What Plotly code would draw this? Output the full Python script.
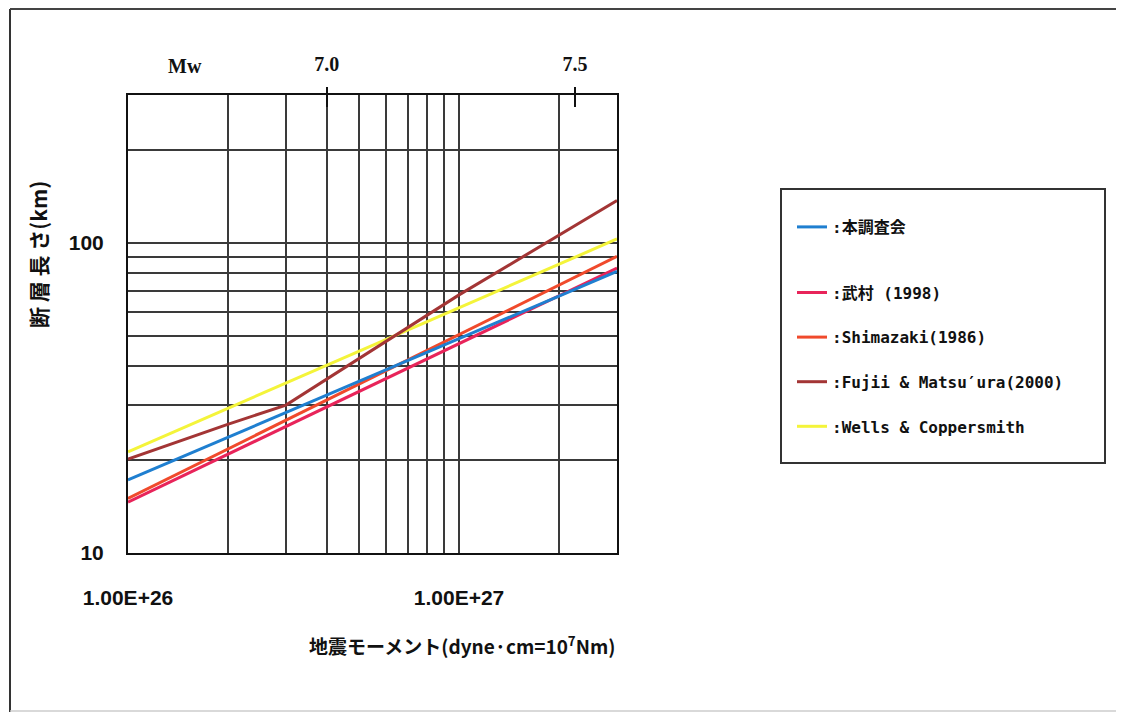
import numpy as np
import plotly.graph_objects as go

# ---- data ----
m0_line = [1e26, 3e27]                      # seismic moment, dyne-cm
L_honchosakai = [17.2, 81.0]                # 本調査会
L_takemura = [14.6, 83.0]                   # 武村 (1998)
L_shimazaki = [15.0, 90.5]                  # Shimazaki (1986)
m0_fujii = [1e26, 2e26, 3e26, 1e27, 3e27]
L_fujii = [20.1, 26.0, 30.0, 68.0, 137.0]   # Fujii & Matsu'ura (2000)
L_wells = [21.2, 103.0]                     # Wells & Coppersmith

x_grid = [1e26, 2e26, 3e26, 4e26, 5e26, 6e26, 7e26, 8e26, 9e26, 1e27, 2e27, 3e27]
x_ticktext = ["1.00E+26", "", "", "", "", "", "", "", "", "1.00E+27", "", ""]
y_grid = [10, 20, 30, 40, 50, 60, 70, 80, 90, 100, 200, 300]
y_ticktext = ["10", "", "", "", "", "", "", "", "", "100", "", ""]
mw_ticks = [7.0, 7.5]
mw_ticktext = ["7.0", "7.5"]

x_min, x_max = 1e26, 3e27
y_min, y_max = 10, 300
mw_range = [(np.log10(x_min) - 16.1) / 1.5, (np.log10(x_max) - 16.1) / 1.5]

# page geometry (browser body has an 8px margin)
OFF = 8
W, H = 1124 - OFF, 713 - OFF
L_PX, R_PX, T_PX, B_PX = 128, 617, 95, 553   # plot area in page pixels
pw, ph = R_PX - L_PX, B_PX - T_PX


def px(xp):
    return (xp - L_PX) / pw


def py(yp):
    return (B_PX - yp) / ph


lab_font = dict(family="Liberation Sans Narrow, Arial Narrow, Liberation Sans", size=21, color="#111", weight="bold")
leg_font = dict(family="DejaVu Sans Mono, Noto Sans CJK JP", size=16, color="#111", weight="bold")
serif_font = dict(family="Liberation Serif, Times New Roman", size=20, color="#111", weight="bold")

fig = go.Figure()

series = [
    (":本調査会", m0_line, L_honchosakai, "#1f7fd0", "a", 1),
    (":武村 (1998)", m0_line, L_takemura, "#e8245a", "b", 2),
    (":Shimazaki(1986)", m0_line, L_shimazaki, "#f04a2c", "b", 3),
    (":Fujii & Matsu′ura(2000)", m0_fujii, L_fujii, "#a33535", "b", 4),
    (":Wells & Coppersmith", m0_line, L_wells, "#f4f43a", "b", 5),
]
draw_order = [1, 2, 4, 3, 0]
for i in draw_order:
    name, xs, ys, col, grp, rank = series[i]
    fig.add_trace(go.Scatter(
        x=xs, y=ys, mode="lines", name=name + "<br> ",
        line=dict(color=col, width=3),
        legendgroup=grp, legendrank=rank,
    ))

# invisible traces to carry the Mw axis (outside + inside ticks form a cross)
fig.add_trace(go.Scatter(x=mw_ticks, y=[y_min, y_min], xaxis="x2", mode="markers",
                         marker=dict(opacity=0), showlegend=False, hoverinfo="skip"))
fig.add_trace(go.Scatter(x=mw_ticks, y=[y_min, y_min], xaxis="x3", mode="markers",
                         marker=dict(opacity=0), showlegend=False, hoverinfo="skip"))

grid_col = "#3a3a3a"
fig.update_layout(
    width=W, height=H,
    margin=dict(l=L_PX - OFF, r=(W + OFF) - R_PX, t=T_PX - OFF, b=(H + OFF) - B_PX, autoexpand=False),
    paper_bgcolor="white", plot_bgcolor="white",
    showlegend=True,
    xaxis=dict(
        type="log", range=[np.log10(x_min), np.log10(x_max)],
        tickmode="array", tickvals=x_grid, ticktext=x_ticktext,
        showgrid=True, gridcolor=grid_col, gridwidth=1.5,
        showline=True, linecolor="#111", linewidth=2, mirror=True,
        ticks="", tickfont=lab_font, ticklabelstandoff=25,
        zeroline=False,
    ),
    yaxis=dict(
        type="log", range=[np.log10(y_min), np.log10(y_max)],
        tickmode="array", tickvals=y_grid, ticktext=y_ticktext,
        showgrid=True, gridcolor=grid_col, gridwidth=1.5,
        showline=True, linecolor="#111", linewidth=2, mirror=True,
        ticks="", tickfont=lab_font, ticklabelstandoff=18,
        zeroline=False,
    ),
    xaxis2=dict(
        overlaying="x", side="top", range=mw_range,
        tickmode="array", tickvals=mw_ticks, ticktext=mw_ticktext,
        ticks="outside", ticklen=7, tickwidth=2, tickcolor="#111",
        showgrid=False, showline=False, zeroline=False,
        tickfont=serif_font, ticklabelstandoff=8,
    ),
    xaxis3=dict(
        overlaying="x", side="top", range=mw_range,
        tickmode="array", tickvals=mw_ticks, ticktext=["", ""],
        ticks="inside", ticklen=12, tickwidth=2, tickcolor="#111",
        showgrid=False, showline=False, zeroline=False, showticklabels=False,
    ),
    legend=dict(
        x=px(792), y=py(210), xanchor="left", yanchor="top",
        bgcolor="rgba(0,0,0,0)", borderwidth=0,
        font=leg_font, traceorder="grouped", tracegroupgap=21,
        valign="top", itemwidth=30,
    ),
    annotations=[
        dict(text="Mw", x=px(185), y=py(66), xref="paper", yref="paper", showarrow=False,
             xanchor="center", yanchor="middle", font=serif_font),
        dict(text="断 層 長 さ(km)", x=px(38), y=py(255), xref="paper", yref="paper", showarrow=False,
             xanchor="center", yanchor="middle", textangle=-90,
             font=dict(family="Noto Sans CJK JP", size=21, color="#111", weight="bold")),
        dict(text="地震モーメント(dyne·cm=10<sup>7</sup>Nm)", x=px(462), y=py(645), xref="paper", yref="paper",
             xanchor="center", yanchor="middle", showarrow=False,
             font=dict(family="Noto Sans CJK JP", size=19, color="#111", weight="bold")),
    ],
    shapes=[
        dict(type="rect", xref="paper", yref="paper", x0=px(781), x1=px(1105), y0=py(463), y1=py(189),
             line=dict(color="#333", width=2), fillcolor="rgba(0,0,0,0)", layer="above"),
        dict(type="line", xref="paper", yref="paper", x0=px(10), x1=px(10), y0=py(9), y1=py(712),
             line=dict(color="#333", width=2)),
        dict(type="line", xref="paper", yref="paper", x0=px(10), x1=px(1124), y0=py(9), y1=py(9),
             line=dict(color="#444", width=2)),
        dict(type="line", xref="paper", yref="paper", x0=px(10), x1=px(1124), y0=py(711), y1=py(711),
             line=dict(color="#ccc", width=1.5)),
    ],
)

fig.write_html("out.html")
